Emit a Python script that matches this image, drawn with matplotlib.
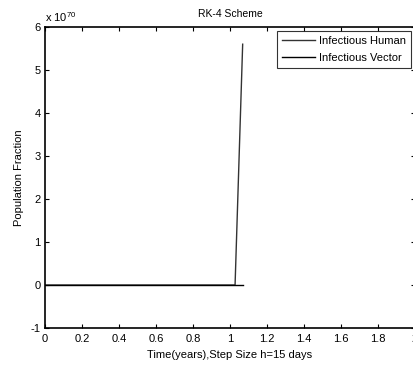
import matplotlib
matplotlib.use("Agg")
import matplotlib.pyplot as plt

plt.rcParams['font.family'] = ['Liberation Sans', 'DejaVu Sans']
plt.rcParams['axes.unicode_minus'] = False
plt.rcParams['mathtext.fontset'] = 'custom'
plt.rcParams['mathtext.rm'] = 'Liberation Sans'

# RK-4 output, step h = 15 days (time in years)
time_years = [0.0000, 0.0411, 0.0822, 0.1233, 0.1644, 0.2055, 0.2466, 0.2877,
              0.3288, 0.3699, 0.4110, 0.4521, 0.4932, 0.5342, 0.5753, 0.6164,
              0.6575, 0.6986, 0.7397, 0.7808, 0.8219, 0.8630, 0.9041, 0.9452,
              0.9863, 1.0274, 1.0685]
infectious_human = [0, 0, 0, 0, 0, 0, 0, 0, 0, 0, 0, 0, 0, 0, 0, 0, 0, 0, 0,
                    0, 0, 0, 0, 0, 0, 0, 5.6e70]
infectious_vector = [0, 0, 0, 0, 0, 0, 0, 0, 0, 0, 0, 0, 0, 0, 0, 0, 0, 0, 0,
                     0, 0, 0, 0, 0, 0, 0, 0]
x_ticks = [0, 0.2, 0.4, 0.6, 0.8, 1, 1.2, 1.4, 1.6, 1.8, 2]
x_tick_labels = ['0', '0.2', '0.4', '0.6', '0.8', '1', '1.2', '1.4', '1.6', '1.8', '2']
y_ticks = [-1, 0, 1, 2, 3, 4, 5, 6]
scale = 1e70

fs = 8

fig = plt.figure(figsize=(4.14, 3.65), dpi=100)
ax = fig.add_axes([45/414, 1 - 328/365, 370/414, (328 - 27)/365])

ax.plot(time_years, [v / scale for v in infectious_human], color='#333333', lw=1.0,
        label='Infectious Human')
ax.plot(time_years, [v / scale for v in infectious_vector], color='black', lw=1.0,
        label='Infectious Vector')

ax.set_xlim(0, 2)
ax.set_ylim(-1, 6)
ax.set_xticks(x_ticks)
ax.set_xticklabels(x_tick_labels)
ax.set_yticks(y_ticks)
ax.tick_params(direction='in', top=True, right=True, length=3, width=0.8,
               labelsize=fs, pad=3)
ax.tick_params(axis='x', pad=4.5)
for s in ax.spines.values():
    s.set_linewidth(1.2)

ax.set_title('RK-4 Scheme', fontsize=7.5, pad=7)
ax.set_xlabel('Time(years),Step Size h=15 days', fontsize=fs, labelpad=4)
ax.set_ylabel('Population Fraction', fontsize=fs, labelpad=5)
fig.text(45/414, 1 - 22/365, r'x 10$^{70}$', fontsize=fs, va='baseline')

leg = ax.legend(loc='upper right', fontsize=fs, frameon=True, fancybox=False,
                edgecolor='black', borderaxespad=0.35, handlelength=3.0,
                borderpad=0.45, labelspacing=0.6, handletextpad=0.35)
leg.get_frame().set_linewidth(0.8)

fig.savefig('out.png', dpi=100)
